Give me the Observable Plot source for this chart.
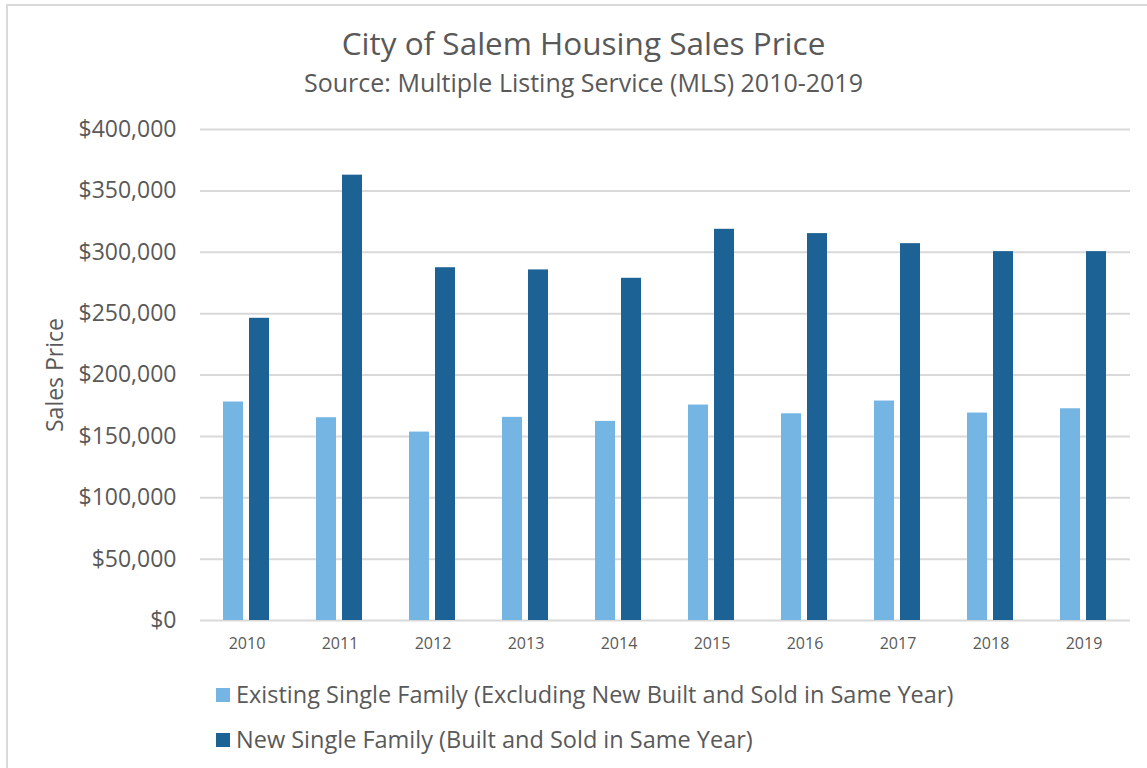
<!DOCTYPE html>
<html><head><meta charset="utf-8">
<script src="https://cdn.jsdelivr.net/npm/d3@7"></script>
<script src="https://cdn.jsdelivr.net/npm/@observablehq/plot@0.6"></script>
<style>
body{margin:0;background:#fff;font-family:"Open Sans","Noto Sans",sans-serif;color:#595959;width:1147px;height:768px;overflow:hidden;position:relative}
#frame{position:absolute;left:6px;top:4px;width:1200px;height:800px;border-left:2px solid #d9d9d9;border-top:2px solid #d9d9d9;box-sizing:border-box}
#title{position:absolute;left:0;width:1167px;top:25.5px;text-align:center;font-size:31.5px;line-height:34px}
#subtitle{position:absolute;left:0;width:1167px;top:67.7px;text-align:center;font-size:25px;line-height:28px}
#chart{position:absolute;left:0;top:100px}
.leg{position:absolute;left:216px;font-size:23.5px;line-height:30px;white-space:nowrap}
.leg span.sw{display:inline-block;width:14px;height:14px;margin-right:6px;vertical-align:1px}
</style></head>
<body>
<div id="frame"></div>
<div id="title">City of Salem Housing Sales Price</div>
<div id="subtitle">Source: Multiple Listing Service (MLS) 2010-2019</div>
<div id="chart"></div>
<div id="legend"></div>
<script>
const years = ["2010","2011","2012","2013","2014","2015","2016","2017","2018","2019"];
const seriesNames = [
  "Existing Single Family (Excluding New Built and Sold in Same Year)",
  "New Single Family (Built and Sold in Same Year)"
];
const existing = [178000,165200,153500,165500,162200,175500,168400,178800,169000,172500];
const newBuilt = [246200,362800,287400,285600,278800,318700,315200,307000,300500,300500];
const colors = ["#75b5e3","#1d6294"];
const yTicks = [0,50000,100000,150000,200000,250000,300000,350000,400000];

const table = [];
years.forEach((yr,i)=>{
  table.push({year:yr, series:seriesNames[0], value:existing[i]});
  table.push({year:yr, series:seriesNames[1], value:newBuilt[i]});
});

const fmt = d3.format("$,");
const chart = Plot.plot({
  width:1147, height:560,
  marginLeft:199, marginRight:17, marginTop:29, marginBottom:40,
  style:{fontFamily:"'Open Sans', 'Noto Sans', sans-serif", color:"#595959", background:"transparent"},
  fx:{domain:years, padding:0, label:null},
  x:{domain:seriesNames, paddingInner:0.213, paddingOuter:0.85, axis:null},
  y:{domain:[0,400000], label:null},
  color:{domain:seriesNames, range:colors},
  marks:[
    Plot.ruleY(yTicks, {stroke:"#d9d9d9", strokeWidth:2}),
    Plot.barY(table, {fx:"year", x:"series", y:"value", fill:"series"}),
    Plot.axisY({ticks:yTicks, tickFormat:fmt, tickSize:0, tickPadding:24, fontSize:23, fill:"#595959",
      label:"Sales Price", labelAnchor:"center", labelOffset:154, labelArrow:"none"}),
    Plot.axisFx({anchor:"bottom", tickSize:0, tickPadding:17, fontSize:16, fill:"#595959", label:null})
  ]
});
document.getElementById("chart").appendChild(chart);
chart.querySelectorAll('[aria-label="y-axis label"] text').forEach(t => t.setAttribute("font-size", "23"));

const legend = document.getElementById("legend");
const tops = [679, 724];
seriesNames.forEach((s,i)=>{
  const d = document.createElement("div");
  d.className = "leg";
  d.style.top = tops[i] + "px";
  d.innerHTML = `<span class="sw" style="background:${colors[i]}"></span>${s}`;
  legend.appendChild(d);
});
</script>
</body></html>
